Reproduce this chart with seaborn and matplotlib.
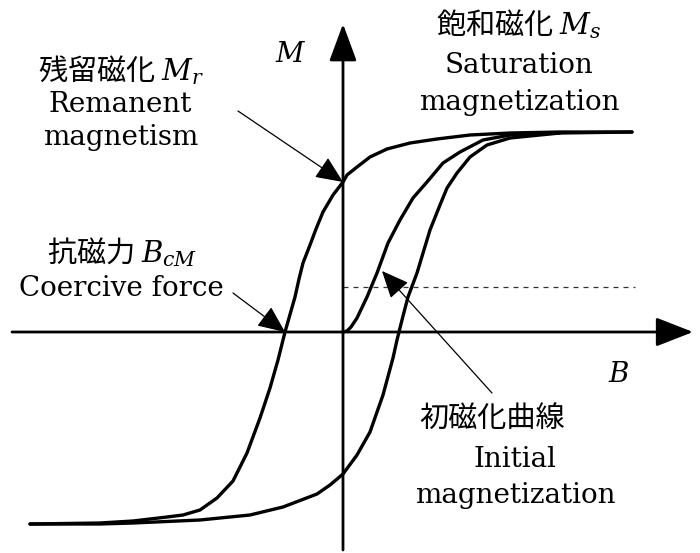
import matplotlib
matplotlib.use("Agg")
import matplotlib.pyplot as plt
from matplotlib.patches import FancyArrowPatch
import seaborn as sns
import pandas as pd

# Hysteresis loop of a ferromagnet (B horizontal, M vertical), normalised so M_s = 1
upper_B = [1.445, 1.085, 0.835, 0.635, 0.47, 0.335, 0.22, 0.135, 0.07, 0.02, 0.0,
           -0.05, -0.1, -0.135, -0.165, -0.2, -0.22, -0.24, -0.29, -0.325, -0.365,
           -0.415, -0.48, -0.55, -0.63, -0.715, -0.8, -0.88, -1.05, -1.215, -1.565]
upper_M = [1.0, 1.0, 0.995, 0.985, 0.965, 0.945, 0.915, 0.875, 0.825, 0.785, 0.75,
           0.685, 0.6, 0.515, 0.435, 0.345, 0.265, 0.175, 0.0, -0.14, -0.28,
           -0.43, -0.605, -0.745, -0.83, -0.89, -0.915, -0.925, -0.945, -0.955, -0.96]

lower_B = [-1.565, -1.215, -1.05, -0.715, -0.465, -0.3, -0.13, -0.065, 0.0, 0.07,
           0.135, 0.2, 0.25, 0.27, 0.28, 0.295, 0.325, 0.37, 0.435, 0.485, 0.52,
           0.57, 0.635, 0.72, 0.835, 1.085, 1.445]
lower_M = [-0.96, -0.96, -0.955, -0.94, -0.915, -0.875, -0.81, -0.765, -0.71, -0.615,
           -0.5, -0.315, -0.13, -0.04, 0.0, 0.06, 0.175, 0.295, 0.51, 0.635, 0.72,
           0.795, 0.875, 0.935, 0.97, 0.995, 1.0]

init_B = [0.0, 0.02, 0.04, 0.07, 0.12, 0.17, 0.225, 0.285, 0.35, 0.42, 0.5, 0.585,
          0.7, 0.835, 1.085]
init_M = [0.0, 0.005, 0.025, 0.07, 0.175, 0.295, 0.445, 0.56, 0.67, 0.75, 0.845, 0.9,
          0.96, 0.985, 0.995]

remanence = 0.75        # M_r
coercivity = -0.29      # B_cM
ref_level = 0.225       # dotted reference level

label_M = "$M$"
label_B = "$B$"
rem_jp, rem_en = "残留磁化 $M_r$", ["Remanent", "magnetism"]
sat_jp, sat_en = "飽和磁化 $M_s$", ["Saturation", "magnetization"]
coe_jp, coe_en = "抗磁力 $B_{cM}$", ["Coercive force"]
ini_jp, ini_en = "初磁化曲線", ["Initial", "magnetization"]

sns.set_theme(style="white")
plt.rcParams["mathtext.fontset"] = "dejavuserif"
plt.rcParams["font.family"] = ["DejaVu Serif"]

W, H = 700, 553
fig = plt.figure(figsize=(W / 100, H / 100), dpi=100)
ax = fig.add_axes([0, 0, 1, 1])
ax.set_axis_off()
ax.set_xlim(-1.715, 1.785)
ax.set_ylim(-1.105, 1.66)


def px(x, y):
    """pixel position (from top-left) -> data coordinates"""
    return (x - 343) / 200.0, (332 - y) / 200.0


curves = pd.concat([
    pd.DataFrame({"B": upper_B, "M": upper_M, "branch": "upper"}),
    pd.DataFrame({"B": lower_B, "M": lower_M, "branch": "lower"}),
    pd.DataFrame({"B": init_B, "M": init_M, "branch": "initial"}),
], ignore_index=True)

sns.lineplot(data=curves, x="B", y="M", units="branch", estimator=None, sort=False,
             color="black", lw=2.4, ax=ax, legend=False,
             solid_joinstyle="round", solid_capstyle="round")

ref = pd.DataFrame({"B": [0.0, 1.46], "M": [ref_level, ref_level]})
sns.lineplot(data=ref, x="B", y="M", color="#333333", lw=0.9,
             linestyle=(0, (4, 4)), ax=ax, legend=False)
ax.set_xlabel("")
ax.set_ylabel("")


def arrow(tail, tip, lw, hl, hw):
    ax.add_patch(FancyArrowPatch(tail, tip, arrowstyle=f"-|>,head_length={hl},head_width={hw}",
                                 mutation_scale=1, lw=lw, color="black",
                                 shrinkA=0, shrinkB=0, zorder=5))


# coordinate axes
arrow(px(12, 332), px(693, 332), 2.0, 23, 9)
arrow(px(343, 550), px(343, 24), 2.0, 23, 8.5)

# annotation pointers
arrow(px(238, 111), (0.0, remanence), 0.9, 17, 7.5)
arrow(px(233, 293), (coercivity, 0.0), 0.9, 17, 7.5)
arrow(px(492, 393), px(382, 271), 0.9, 17, 7.5)

cjk = ["Noto Sans CJK JP", "DejaVu Serif"]
fs_jp, fs_en = 21, 20

def text(s, x, y, size, family=None):
    ax.text(*px(x, y), s, ha="center", va="baseline", fontsize=size,
            family=family if family else ["DejaVu Serif"], color="black")

text(label_M, 291, 62, fs_en)
text(label_B, 619, 382, fs_en)

text(rem_jp, 121, 80, fs_jp, cjk)
text(rem_en[0], 120, 112, fs_en)
text(rem_en[1], 121, 145, fs_en)

text(sat_jp, 518, 34, fs_jp, cjk)
text(sat_en[0], 519, 73, fs_en)
text(sat_en[1], 519, 110, fs_en)

text(coe_jp, 122, 262, fs_jp, cjk)
text(coe_en[0], 121, 296, fs_en)

text(ini_jp, 492, 427, fs_jp, cjk)
text(ini_en[0], 515, 467, fs_en)
text(ini_en[1], 515, 503, fs_en)

fig.savefig("out.png", dpi=100, facecolor="white")
